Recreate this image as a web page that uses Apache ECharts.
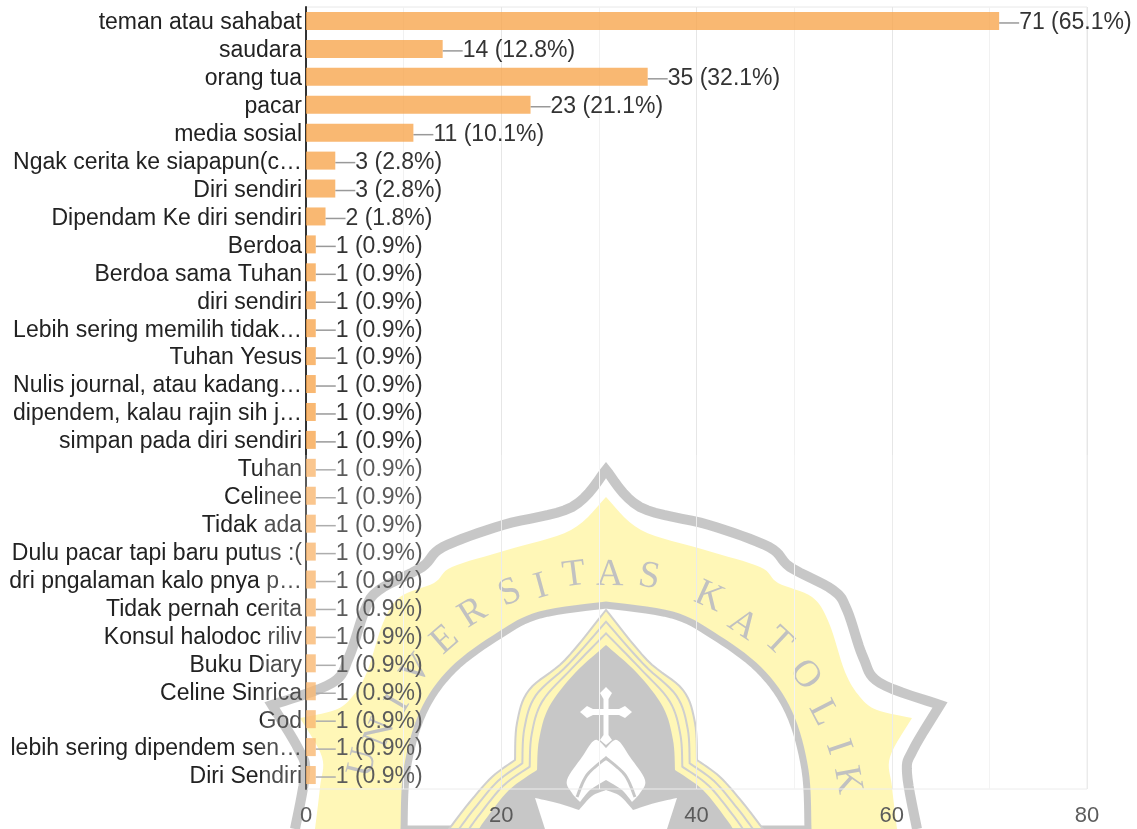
<!DOCTYPE html>
<html>
<head>
<meta charset="utf-8">
<title>chart</title>
<style>
html, body { margin: 0; padding: 0; background: #fff; }
#main { width: 1137px; height: 829px; }
</style>
<script src="https://cdn.jsdelivr.net/npm/echarts@6/dist/echarts.min.js"></script>
</head>
<body>
<div id="main"></div>
<script>
var categories = ['teman atau sahabat', 'saudara', 'orang tua', 'pacar', 'media sosial',
    'Ngak cerita ke siapapun(c…', 'Diri sendiri', 'Dipendam Ke diri sendiri', 'Berdoa',
    'Berdoa sama Tuhan', 'diri sendiri', 'Lebih sering memilih tidak…', 'Tuhan Yesus',
    'Nulis journal, atau kadang…', 'dipendem, kalau rajin sih j…', 'simpan pada diri sendiri',
    'Tuhan', 'Celinee', 'Tidak ada', 'Dulu pacar tapi baru putus :(', 'dri pngalaman kalo pnya p…',
    'Tidak pernah cerita', 'Konsul halodoc riliv', 'Buku Diary', 'Celine Sinrica', 'God',
    'lebih sering dipendem sen…', 'Diri Sendiri'];
var counts = [71, 14, 35, 23, 11, 3, 3, 2, 1, 1, 1, 1, 1, 1, 1, 1, 1, 1, 1, 1, 1, 1, 1, 1, 1, 1, 1, 1];
var percents = ['65.1', '12.8', '32.1', '21.1', '10.1', '2.8', '2.8', '1.8', '0.9', '0.9', '0.9', '0.9', '0.9', '0.9',
    '0.9', '0.9', '0.9', '0.9', '0.9', '0.9', '0.9', '0.9', '0.9', '0.9', '0.9', '0.9', '0.9', '0.9'];

// watermark outline, right half only, the left half is mirrored around x=606
var outerBand = [[[606, 470], [640, 507], [709, 525], [769, 547], [790, 567], [833, 590], [847, 610], [863, 657], [880, 683], [940, 705]],
    [[940, 705], [913, 750], [907, 773], [917, 829]]];
var yellowEdge = [[[606, 497], [641, 530], [705, 550], [760, 567], [778, 583], [812, 597], [829, 623], [845, 672], [860, 697], [877, 710], [912, 718]],
    [[912, 718], [890, 757], [892, 787], [897, 829]]];
var arcEdge = [[[606, 605], [672, 615], [712, 635], [759, 670], [789, 713], [805, 770], [808, 829]]];
var archOuter = [[[606, 610], [647, 660], [683, 690], [695, 723], [697, 760]], [[697, 760], [720, 777], [743, 803], [763, 829]]];
var archInner = [[[606, 645], [637, 673], [663, 707], [673, 740], [675, 770]], [[675, 770], [703, 790], [727, 820], [733, 829]]];
var flameOuter = [[[606, 748], [617, 740], [630, 757], [645, 780], [640, 793], [632, 802]], [[632, 802], [622, 790], [606, 780]]];
var flameLine = [[[606, 758], [625, 775], [635, 797]]];
var lotus = [[[606, 790], [620, 796], [633, 810]], [[633, 810], [655, 803], [677, 798]], [[677, 798], [667, 829]]];
var crossShape = [[606, 687], [612, 693], [608.5, 699], [608.5, 709], [619, 709], [625, 706], [632, 712], [625, 718], [619, 715], [608.5, 715], [608.5, 735], [612, 740], [606, 745]];
var seal = [['U', 363, 763], ['N', 380, 733], ['I', 398, 703], ['V', 417, 670], ['E', 445, 640], ['R', 473, 613], ['S', 510, 593],
    ['I', 541, 587], ['T', 574, 575], ['A', 610, 575], ['S', 649, 577], ['K', 709, 597], ['A', 743, 625], ['T', 778, 642],
    ['O', 805, 675], ['L', 823, 713], ['I', 838, 747], ['K', 847, 780]];

// sample a smooth line through the points (catmull-rom)
function sampleCurve(pts) {
    var out = [];
    for (var i = 0; i < pts.length - 1; i++) {
        var p0 = pts[i - 1] || pts[i], p1 = pts[i], p2 = pts[i + 1], p3 = pts[i + 2] || p2;
        for (var k = 0; k < 8; k++) {
            var t = k / 8, t2 = t * t, t3 = t2 * t;
            out.push([
                0.5 * (2 * p1[0] + (p2[0] - p0[0]) * t + (2 * p0[0] - 5 * p1[0] + 4 * p2[0] - p3[0]) * t2 + (3 * p1[0] - p0[0] - 3 * p2[0] + p3[0]) * t3),
                0.5 * (2 * p1[1] + (p2[1] - p0[1]) * t + (2 * p0[1] - 5 * p1[1] + 4 * p2[1] - p3[1]) * t2 + (3 * p1[1] - p0[1] - 3 * p2[1] + p3[1]) * t3)
            ]);
        }
    }
    out.push(pts[pts.length - 1]);
    return out;
}
function halfLine(segments) {
    var out = [];
    segments.forEach(function (s) { out = out.concat(sampleCurve(s)); });
    return out;
}
function mirror(pts) {
    return pts.map(function (p) { return [1212 - p[0], p[1]]; }).reverse();
}
function whole(segments) {
    var half = halfLine(segments);
    return mirror(half).concat(half);
}
function blendLine(a, b, t) {
    return a.map(function (p, i) { return [p[0] + (b[i][0] - p[0]) * t, p[1] + (b[i][1] - p[1]) * t]; });
}

var gray = 'rgb(186,186,186)';
var yellow = 'rgb(255,246,165)';
var logo = [];
logo.push({ type: 'polyline', shape: { points: whole(outerBand) }, style: { stroke: gray, lineWidth: 10, fill: null, lineJoin: 'miter' } });
logo.push({ type: 'polygon', shape: { points: whole(yellowEdge) }, style: { fill: yellow } });
logo.push({ type: 'polygon', shape: { points: whole(arcEdge) }, style: { fill: '#fff', stroke: gray, lineWidth: 7 } });
// letters stay on the yellow band
seal.forEach(function (l) {
    logo.push({
        type: 'text', x: l[1], y: l[2],
        rotation: -Math.atan2(l[1] - 606, 825 - l[2]),
        style: { text: l[0], font: '38px "Liberation Serif"', fill: 'rgb(178,178,178)', align: 'center', verticalAlign: 'middle' }
    });
});
var aOut = whole(archOuter), aIn = whole(archInner);
logo.push({ type: 'polygon', shape: { points: aOut }, style: { fill: yellow, stroke: 'rgb(195,195,195)', lineWidth: 2 } });
logo.push({ type: 'polygon', shape: { points: blendLine(aOut, aIn, 1 / 3) }, style: { fill: yellow, stroke: 'rgb(195,195,195)', lineWidth: 2 } });
logo.push({ type: 'polygon', shape: { points: blendLine(aOut, aIn, 2 / 3) }, style: { fill: yellow, stroke: 'rgb(195,195,195)', lineWidth: 2 } });
logo.push({ type: 'polygon', shape: { points: aIn }, style: { fill: gray } });
logo.push({ type: 'polygon', shape: { points: crossShape.concat(mirror(crossShape)) }, style: { fill: '#fff' } });
logo.push({ type: 'polygon', shape: { points: whole(flameOuter) }, style: { fill: '#fff' } });
logo.push({ type: 'polyline', shape: { points: whole(flameLine) }, style: { stroke: gray, lineWidth: 3, fill: null } });
logo.push({ type: 'polygon', shape: { points: whole(lotus) }, style: { fill: '#fff' } });
logo.forEach(function (e) { e.z = -10; e.silent = true; });

// the scan washes out everything under the logo's picture box
logo.push({ type: 'rect', z: 100, silent: true, shape: { x: 262, y: 455, width: 875, height: 374 }, style: { fill: 'rgba(255,255,255,0.2)' } });

var chart = echarts.init(document.getElementById('main'));
var option = {
    backgroundColor: '#fff',
    animation: false,
    textStyle: { fontFamily: '"Liberation Sans", Arial, sans-serif' },
    graphic: { elements: logo },
    grid: { left: 306, right: 50, top: 7, bottom: 40, show: true, borderColor: '#e8e8e8', borderWidth: 1, backgroundColor: 'transparent' },
    xAxis: {
        type: 'value',
        min: 0,
        max: 80,
        interval: 20,
        minorTick: { show: false, splitNumber: 2 },
        minorSplitLine: { show: true, lineStyle: { color: '#f1f1f1', width: 1 } },
        splitLine: { show: true, lineStyle: { color: '#e6e6e6', width: 1 } },
        axisLine: { show: false },
        axisTick: { show: false },
        axisLabel: { color: '#333', fontSize: 22, margin: 16 }
    },
    yAxis: {
        type: 'category',
        inverse: true,
        data: categories,
        axisLine: { show: true, onZero: false, lineStyle: { color: '#333', width: 2 } },
        axisTick: { show: false },
        splitLine: { show: false },
        // lineHeight 4 with top align pushes the text 2px below the row centre
        axisLabel: { color: '#222', fontSize: 23, margin: 4, interval: 0, verticalAlign: 'top', lineHeight: 4 }
    },
    series: [{
        type: 'bar',
        data: counts,
        barWidth: 18,
        itemStyle: { color: 'rgba(248,166,79,0.8)' },
        label: {
            show: true,
            position: 'right',
            distance: 0,
            color: '#333',
            fontSize: 23,
            formatter: function (p) { return counts[p.dataIndex] + ' (' + percents[p.dataIndex] + '%)'; }
        },
        labelLayout: { dx: 20, dy: 2 },
        labelLine: { show: true, lineStyle: { color: '#999', width: 1.5 } }
    }]
};
chart.setOption(option);
</script>
</body>
</html>
